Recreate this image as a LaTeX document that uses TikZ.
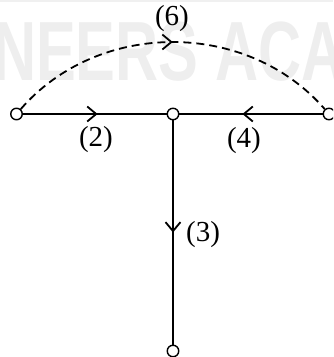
\documentclass[tikz,border=0pt]{standalone}
\usepackage{fontspec}
\setmainfont{Liberation Serif}
\newfontfamily\marcafont{Liberation Sans}
\usetikzlibrary{arrows.meta,decorations.markings}
\begin{document}
\begin{tikzpicture}[x=1pt,y=-1pt,
  no/.style={circle,draw,fill=white,inner sep=0pt,minimum size=11.5pt,line width=1.4pt},
  ramo/.style={line width=1.6pt},
  seta/.style={postaction={decorate,decoration={markings,mark=at position #1 with {\arrow[line width=1.8pt]{Straight Barb[length=9pt,width=15pt]}}}}},
  rotulo/.style={font=\fontsize{29}{29}\selectfont}]
\useasboundingbox (0,0) rectangle (333,357);
\clip (0,0) rectangle (333,357);
% marca d'agua
\fill[gray!12] (0,0) rectangle (333,2);
\node[anchor=base west,text=gray!13,font=\marcafont\bfseries\fontsize{84}{84}\selectfont,xscale=0.71,inner sep=0pt] (marca) at (-7,80) {NEERS ACA};
% nos
\node[no] (a) at (16.5,114) {};
\node[no] (b) at (173,114) {};
\node[no] (c) at (329,114) {};
\node[no] (d) at (173,351) {};
% ramos
\draw[ramo,seta=0.52] (a) -- (b);
\draw[ramo,seta=0.56] (c) -- (b);
\draw[ramo,seta=0.5] (b) -- (d);
\draw[line width=1.8pt,dash pattern=on 8pt off 5pt,seta=0.5] (a) to[bend left=49] (c);
% rotulos
\node[rotulo] (l6) at (172,19) {(6)};
\node[rotulo] (l2) at (96,140) {(2)};
\node[rotulo] (l4) at (244,141) {(4)};
\node[rotulo] (l3) at (203,235) {(3)};
\end{tikzpicture}
\end{document}
